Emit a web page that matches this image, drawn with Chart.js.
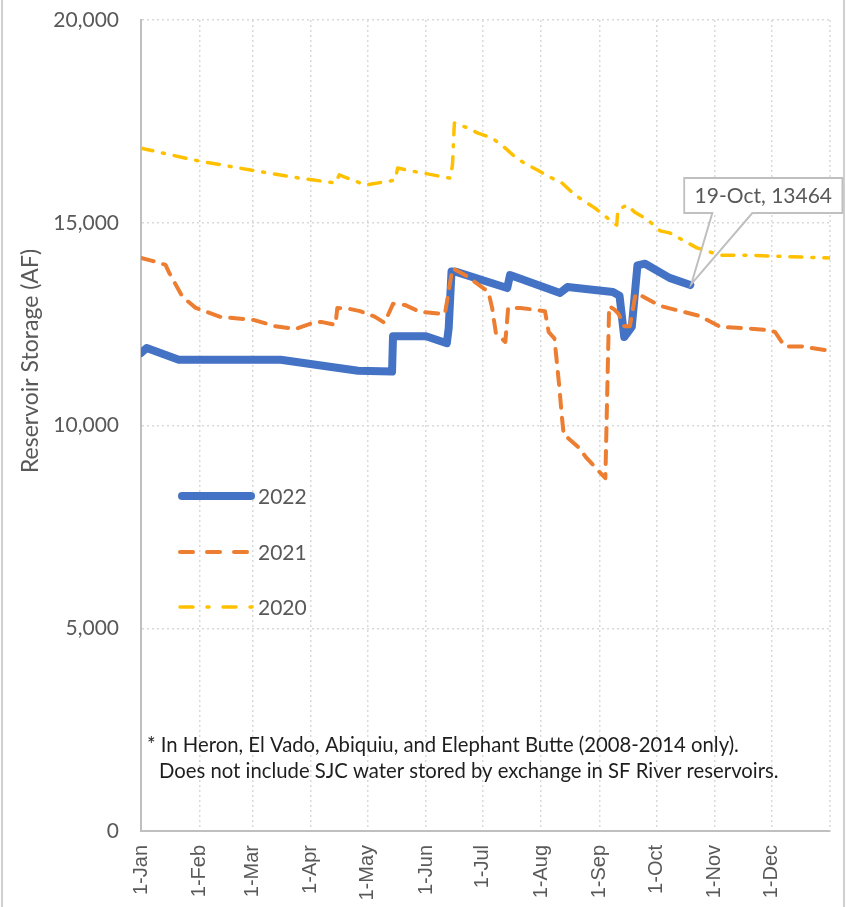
<!DOCTYPE html>
<html>
<head>
<meta charset="utf-8">
<script src="https://cdn.jsdelivr.net/npm/chart.js@4/dist/chart.umd.min.js"></script>
<style>
html,body{margin:0;padding:0;background:#fff;}
#wrap{width:846px;height:907px;}
</style>
</head>
<body>
<div id="wrap"><canvas id="c" width="846" height="907"></canvas></div>
<script>
// ---- data (day of year, storage in AF) ----
const monthStartDays = [0,31,59,90,120,151,181,212,243,273,304,334];
const monthLabels = ['1-Jan','1-Feb','1-Mar','1-Apr','1-May','1-Jun','1-Jul','1-Aug','1-Sep','1-Oct','1-Nov','1-Dec'];
const yearEndDay = 365;
const yTicks = [0,5000,10000,15000,20000];
const yTitle = 'Reservoir Storage (AF)';

const days2022 = [0,3,20,74,100,115,133,133.5,151,162,163,164.5,167,194,195.5,222,226,250,253.5,256,260,263,267,280,291];
const storage2022 = [11790,11910,11620,11620,11450,11350,11330,12200,12200,12030,12400,13800,13790,13390,13710,13270,13415,13290,13200,12180,12430,13950,13990,13640,13464];

const days2021 = [0,6,13,15,22,29,42,60,71,82,92,96,103,104,111,116,124,129,133.5,140,148,161,165,172,184,186,188,193,194.5,201,214,216,219,220,221.5,223,224,226,232,236,241,246,248,251,253,256,259,262,265,275,296,307,320,333,336,341,350,365];
const storage2021 = [14130,14060,13960,13760,13170,12900,12680,12600,12450,12380,12550,12550,12480,12900,12870,12820,12680,12530,13000,12970,12800,12750,13880,13700,13300,12900,12280,12060,12900,12900,12820,12300,12150,11700,11000,10200,9750,9700,9450,9200,8950,8700,12950,12850,12750,12450,12450,13250,13200,12950,12700,12430,12400,12350,12300,11950,11950,11840];

const days2020 = [0,27.5,58,84,100,103,105,119,126.6,134.5,136,142.5,149,158,163.7,165,166,173,178.5,186,193,197,203,210,215.6,223,230,234,240.5,247,252,252.6,257.4,261.6,268.5,275,280,294.5,306.7,320,365];
const storage2020 = [16840,16550,16300,16100,16000,15980,16180,15930,15990,16050,16350,16280,16230,16150,16100,16420,17460,17340,17210,17090,16840,16670,16470,16300,16150,15980,15680,15560,15360,15120,14940,15310,15440,15260,15070,14800,14750,14380,14200,14200,14130];

const calloutDay = 291;
const calloutValue = 13464;
const calloutText = '19-Oct, 13464';
const footnoteLines = ['* In Heron, El Vado, Abiquiu, and Elephant Butte (2008-2014 only).',
                       'Does not include SJC water stored by exchange in SF River reservoirs.'];

const pts = (xs, ys) => xs.map((x, i) => ({x: x, y: ys[i]}));

const GRID = '#d9d9d9';
const TXT = '#595959';

const endGrid = {
  id: 'endGrid',
  beforeDatasetsDraw(chart) {
    const ctx = chart.ctx, xs = chart.scales.x, a = chart.chartArea;
    const x = xs.getPixelForValue(yearEndDay);
    ctx.save();
    ctx.strokeStyle = GRID; ctx.lineWidth = 1.5; ctx.setLineDash([2, 3]);
    ctx.beginPath(); ctx.moveTo(x, a.top); ctx.lineTo(x, a.bottom); ctx.stroke();
    ctx.restore();
  }
};

const extras = {
  id: 'extras',
  afterDraw(chart) {
    const ctx = chart.ctx;
    const xs = chart.scales.x, ys = chart.scales.y;
    ctx.save();
    // outer border lines
    ctx.strokeStyle = '#d0d0d0';
    ctx.lineWidth = 2;
    ctx.beginPath();
    ctx.moveTo(2, 0); ctx.lineTo(2, 907);
    ctx.moveTo(844, 0); ctx.lineTo(844, 907);
    ctx.stroke();

    // y axis title
    ctx.save();
    ctx.translate(31, 361);
    ctx.rotate(-Math.PI / 2);
    ctx.fillStyle = TXT;
    ctx.font = '23px Lato';
    ctx.textAlign = 'center';
    ctx.textBaseline = 'middle';
    ctx.fillText(yTitle, 0, 0);
    ctx.restore();

    // legend
    const legY = [496, 552, 607];
    chart.data.datasets.forEach((ds, i) => {
      const y = legY[i];
      ctx.save();
      ctx.strokeStyle = ds.borderColor;
      ctx.lineWidth = ds.borderWidth;
      ctx.lineCap = ds.borderCapStyle || 'butt';
      ctx.setLineDash(ds.legendDash || []);
      ctx.beginPath();
      const x0 = i === 0 ? 182 : 180;
      const x1 = i === 0 ? 251 : 252;
      ctx.moveTo(x0, y); ctx.lineTo(x1, y);
      ctx.stroke();
      ctx.restore();
      ctx.fillStyle = TXT;
      ctx.font = '21px Lato';
      ctx.textBaseline = 'middle';
      ctx.fillText(ds.label, 258, y + 1);
    });

    // footnote
    ctx.fillStyle = '#1e1e1e';
    ctx.font = '20.3px Lato';
    ctx.textBaseline = 'middle';
    ctx.fillText(footnoteLines[0], 147, 745);
    ctx.fillText(footnoteLines[1], 159, 771);

    // callout
    const px = xs.getPixelForValue(calloutDay);
    const py = ys.getPixelForValue(calloutValue);
    const bx = px - 6, by = py - 107, bw = 158, bh = 35;
    ctx.strokeStyle = '#bfbfbf';
    ctx.lineWidth = 2;
    ctx.fillStyle = '#ffffff';
    ctx.beginPath();
    ctx.moveTo(bx, by);
    ctx.lineTo(bx + bw, by);
    ctx.lineTo(bx + bw, by + bh);
    ctx.lineTo(px + 62, by + bh);
    ctx.lineTo(px + 1, py - 1);
    ctx.lineTo(px + 22, by + bh);
    ctx.lineTo(bx, by + bh);
    ctx.closePath();
    ctx.stroke();
    ctx.fillRect(bx + 1, by + 1, bw - 2, bh - 2);
    ctx.fillStyle = TXT;
    ctx.font = '21px Lato';
    ctx.textBaseline = 'middle';
    ctx.textAlign = 'center';
    ctx.fillText(calloutText, bx + bw / 2, by + bh / 2 + 1);
    ctx.restore();
  }
};

new Chart(document.getElementById('c'), {
  type: 'line',
  data: {
    datasets: [
      {
        label: '2022', data: pts(days2022, storage2022),
        borderColor: '#4472C4', borderWidth: 8, borderCapStyle: 'round', borderJoinStyle: 'round',
        pointRadius: 0, tension: 0, order: 3, legendDash: []
      },
      {
        label: '2021', data: pts(days2021, storage2021),
        borderColor: '#ED7D31', borderWidth: 4, borderDash: [13, 10], borderCapStyle: 'round', borderJoinStyle: 'round',
        pointRadius: 0, tension: 0, order: 2, legendDash: [13, 14]
      },
      {
        label: '2020', data: pts(days2020, storage2020),
        borderColor: '#FFC000', borderWidth: 3.5, borderDash: [12, 10, 2, 10], borderCapStyle: 'round', borderJoinStyle: 'round',
        pointRadius: 0, tension: 0, order: 1, legendDash: [13, 14, 2, 14]
      }
    ]
  },
  options: {
    responsive: false,
    animation: false,
    layout: { padding: { left: 0, right: 16, top: 20, bottom: 0 } },
    plugins: { legend: { display: false }, tooltip: { enabled: false } },
    scales: {
      x: {
        type: 'linear', min: 0, max: yearEndDay,
        afterBuildTicks: (s) => { s.ticks = monthStartDays.map(v => ({value: v})); },
        afterFit: (s) => { s.height = 76; },
        ticks: {
          autoSkip: false, minRotation: 90, maxRotation: 90, padding: 14,
          color: TXT, font: { family: 'Liberation Sans', size: 20 },
          callback: (v, i) => monthLabels[i] || ''
        },
        grid: { color: GRID, lineWidth: 1.5, drawTicks: false },
        border: { display: true, color: '#bfbfbf', width: 2, dash: [2, 3] }
      },
      y: {
        min: 0, max: 20000,
        afterBuildTicks: (s) => { s.ticks = yTicks.map(v => ({value: v})); },
        afterFit: (s) => { s.width = 141; s.paddingTop = 0; s.paddingBottom = 0; },
        ticks: {
          padding: 22, color: TXT, font: { family: 'Lato', size: 21 },
          callback: (v) => v.toLocaleString('en-US')
        },
        grid: { color: GRID, lineWidth: 1.5, drawTicks: false },
        border: { display: true, color: '#bfbfbf', width: 2, dash: [2, 3] }
      }
    }
  },
  plugins: [endGrid, extras]
});
</script>
</body>
</html>
